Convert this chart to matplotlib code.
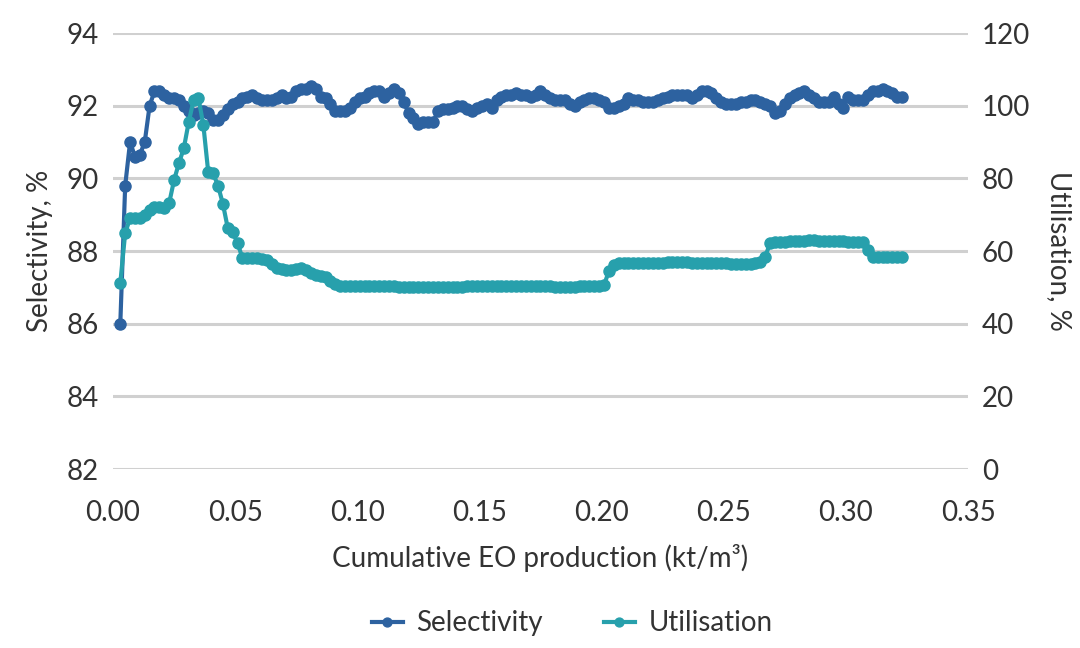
import numpy as np
import matplotlib.pyplot as plt
from matplotlib.ticker import FixedLocator

# cumulative EO production, kt/m3 (sampled every 0.002)
production = np.arange(0.003, 0.3231, 0.002)

selectivity = [
    86.0, 89.8, 91.0, 90.6, 90.65, 91.0, 92.0, 92.4, 92.4, 92.3,
    92.2, 92.2, 92.15, 92.0, 91.85, 91.75, 91.8, 91.85, 91.8, 91.6,
    91.6, 91.75, 91.9, 92.05, 92.1, 92.2, 92.25, 92.3, 92.2, 92.15,
    92.15, 92.15, 92.2, 92.3, 92.2, 92.25, 92.4, 92.45, 92.45, 92.55,
    92.45, 92.25, 92.2, 92.05, 91.85, 91.85, 91.85, 91.95, 92.1, 92.2,
    92.25, 92.35, 92.4, 92.4, 92.25, 92.35, 92.45, 92.35, 92.1, 91.8,
    91.65, 91.5, 91.55, 91.55, 91.55, 91.85, 91.9, 91.9, 91.95, 92.0,
    92.0, 91.9, 91.85, 91.95, 92.0, 92.05, 91.95, 92.15, 92.25, 92.3,
    92.3, 92.35, 92.3, 92.3, 92.25, 92.3, 92.4, 92.3, 92.2, 92.15,
    92.15, 92.15, 92.05, 92.0, 92.1, 92.15, 92.2, 92.2, 92.15, 92.1,
    91.95, 91.95, 92.0, 92.05, 92.2, 92.15, 92.15, 92.1, 92.1, 92.1,
    92.15, 92.2, 92.25, 92.3, 92.3, 92.3, 92.3, 92.2, 92.3, 92.4,
    92.4, 92.35, 92.2, 92.1, 92.05, 92.05, 92.05, 92.1, 92.1, 92.15,
    92.15, 92.1, 92.05, 92.0, 91.8, 91.85, 92.05, 92.2, 92.3, 92.35,
    92.4, 92.3, 92.2, 92.1, 92.1, 92.1, 92.25, 92.05, 91.95, 92.25,
    92.15, 92.15, 92.15, 92.3, 92.4, 92.4, 92.45, 92.4, 92.35, 92.25,
    92.25,
]

utilisation = [
    51.2, 65.0, 69.0, 69.1, 69.1, 69.9, 71.3, 72.1, 72.0, 71.8,
    73.2, 79.5, 84.2, 88.3, 95.5, 101.5, 102.1, 94.7, 81.7, 81.4,
    78.0, 73.0, 66.3, 65.2, 62.2, 58.1, 58.1, 58.1, 58.0, 57.9,
    57.6, 56.5, 55.3, 55.0, 54.8, 54.9, 55.1, 55.3, 54.8, 53.9,
    53.5, 53.2, 52.8, 51.8, 50.9, 50.3, 50.3, 50.3, 50.4, 50.4,
    50.4, 50.4, 50.5, 50.4, 50.4, 50.3, 50.3, 50.2, 50.2, 50.2,
    50.1, 50.1, 50.1, 50.1, 50.2, 50.2, 50.2, 50.2, 50.2, 50.2,
    50.2, 50.3, 50.3, 50.3, 50.3, 50.3, 50.3, 50.3, 50.3, 50.3,
    50.4, 50.4, 50.4, 50.4, 50.3, 50.3, 50.3, 50.3, 50.3, 50.2,
    50.2, 50.2, 50.2, 50.2, 50.3, 50.3, 50.3, 50.3, 50.3, 50.6,
    54.5, 56.3, 56.6, 56.7, 56.7, 56.7, 56.6, 56.6, 56.7, 56.8,
    56.8, 56.8, 56.9, 57.0, 57.0, 56.9, 56.9, 56.8, 56.8, 56.8,
    56.7, 56.7, 56.6, 56.6, 56.6, 56.5, 56.5, 56.5, 56.5, 56.5,
    56.6, 57.0, 58.5, 62.2, 62.5, 62.6, 62.6, 62.7, 62.8, 62.8,
    62.9, 63.0, 63.0, 62.9, 62.8, 62.8, 62.7, 62.7, 62.7, 62.6,
    62.6, 62.5, 62.5, 60.3, 58.3, 58.3, 58.3, 58.3, 58.3, 58.3,
    58.3,
]

left_ticks = [82, 84, 86, 88, 90, 92, 94]
right_ticks = [0, 20, 40, 60, 80, 100, 120]
x_ticks = [0.0, 0.05, 0.10, 0.15, 0.20, 0.25, 0.30, 0.35]

blue = '#2D62A0'
teal = '#27A0AC'
text_col = '#333333'
grid_col = '#D0D0D0'
fs = 20

plt.rcParams['font.family'] = ['Lato', 'DejaVu Sans']

fig = plt.figure(figsize=(10.8, 6.48), dpi=100)
ax = fig.add_axes([0.1046, 0.276, 0.7917, 0.673])
ax2 = ax.twinx()

l1, = ax.plot(production, selectivity, color=blue, lw=3, marker='o',
              markersize=8, label='Selectivity')
l2, = ax2.plot(production, utilisation, color=teal, lw=3, marker='o',
               markersize=8, label='Utilisation')

ax.set_xlim(0, 0.35)
ax.set_ylim(82, 94)
ax2.set_ylim(0, 120)
ax.xaxis.set_major_locator(FixedLocator(x_ticks))
ax.set_xticklabels(['%.2f' % v for v in x_ticks])
ax.yaxis.set_major_locator(FixedLocator(left_ticks))
ax2.yaxis.set_major_locator(FixedLocator(right_ticks))

ax.grid(axis='y', color=grid_col, lw=2.2)
ax.set_axisbelow(True)

for a in (ax, ax2):
    for s in a.spines.values():
        s.set_visible(False)
    a.tick_params(length=0, labelsize=fs, colors=text_col, pad=10)
ax.tick_params(axis='x', pad=22)

ax.set_xlabel('Cumulative EO production (kt/m³)', fontsize=fs,
              color=text_col, labelpad=13)
ax.set_ylabel('Selectivity, %', fontsize=fs, color=text_col, labelpad=10)
ax2.set_ylabel('Utilisation, %', fontsize=fs, color=text_col,
               rotation=270, labelpad=30)

fig.legend([l1, l2], ['Selectivity', 'Utilisation'], loc='center',
           bbox_to_anchor=(0.53, 0.038), ncol=2, frameon=False,
           fontsize=fs, labelcolor=text_col, handlelength=1.1,
           handletextpad=0.5, columnspacing=2.2, markerscale=0.8)

fig.savefig('out.png', dpi=100)
